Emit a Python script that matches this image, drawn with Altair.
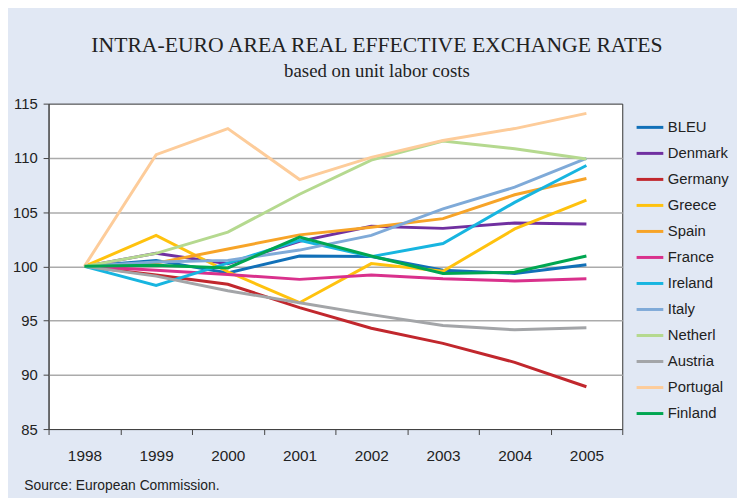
import altair as alt
import pandas as pd

years = [1998, 1999, 2000, 2001, 2002, 2003, 2004, 2005]
countries = ["BLEU", "Denmark", "Germany", "Greece", "Spain", "France",
             "Ireland", "Italy", "Netherl", "Austria", "Portugal", "Finland"]

bleu = [100, 100.55, 99.4, 100.95, 100.9, 99.65, 99.35, 100.15]
denmark = [100, 101.2, 100.25, 102.3, 103.7, 103.5, 104.0, 103.9]
germany = [100, 99.2, 98.35, 96.2, 94.3, 92.9, 91.15, 88.9]
greece = [100, 102.85, 99.5, 96.65, 100.25, 99.55, 103.45, 106.1]
spain = [100, 100.3, 101.6, 102.9, 103.6, 104.4, 106.6, 108.1]
france = [100, 99.65, 99.25, 98.8, 99.2, 98.85, 98.65, 98.85]
ireland = [100, 98.25, 100.3, 102.4, 100.9, 102.1, 105.9, 109.3]
italy = [100, 100.4, 100.55, 101.5, 102.85, 105.3, 107.3, 109.95]
netherl = [100, 101.2, 103.15, 106.65, 109.8, 111.55, 110.85, 109.9]
austria = [100, 99.1, 97.75, 96.65, 95.55, 94.55, 94.15, 94.35]
portugal = [100, 110.3, 112.7, 108.0, 110.05, 111.6, 112.7, 114.1]
finland = [100, 100.1, 99.85, 102.7, 100.95, 99.35, 99.45, 100.95]

series = [bleu, denmark, germany, greece, spain, france,
          ireland, italy, netherl, austria, portugal, finland]

colors = ["#1170b8", "#7030a0", "#c1272d", "#ffc20e", "#f7a428", "#d9318c",
          "#17b5e0", "#7faad8", "#b5d98f", "#a3a5a8", "#fdcc9a", "#00a651"]

y_ticks = [85, 90, 95, 100, 105, 110, 115]

title_text = "INTRA-EURO AREA REAL EFFECTIVE EXCHANGE RATES"
subtitle_text = "based on unit labor costs"
source_text = "Source: European Commission."

rows = []
for name, vals in zip(countries, series):
    for yr, v in zip(years, vals):
        rows.append({"year": str(yr), "country": name, "value": v})
df = pd.DataFrame(rows)

lines = alt.Chart(df).mark_line(strokeWidth=3).encode(
    x=alt.X("year:O", bandPosition=0.5,
            scale=alt.Scale(type="band", paddingInner=0, paddingOuter=0),
            axis=alt.Axis(title=None, labelAngle=0, tickBand="extent",
                          tickSize=5.5, labelPadding=14, labelFontSize=15.5,
                          grid=False)),
    y=alt.Y("value:Q",
            scale=alt.Scale(domain=[85, 115], nice=False, zero=False),
            axis=alt.Axis(title=None, values=y_ticks, tickSize=5.5,
                          labelPadding=6, labelFontSize=15,
                          grid=True, gridWidth=1.5,
                          gridColor={"condition": {"test": "datum.value === 85 || datum.value === 115",
                                                   "value": "transparent"},
                                     "value": "#ababab"})),
    color=alt.Color("country:N", sort=countries,
                    scale=alt.Scale(domain=countries, range=colors),
                    legend=alt.Legend(title=None, orient="none", legendX=593, legendY=9,
                                      symbolType="stroke", symbolSize=729,
                                      symbolStrokeWidth=3, labelFontSize=15,
                                      labelFont="Liberation Sans", labelColor="#222",
                                      labelOffset=3, padding=0, rowPadding=3.3)),
)

src = alt.Chart(pd.DataFrame({"t": [source_text]})).mark_text(
    align="left", baseline="alphabetic", font="Liberation Sans", fontSize=14,
    color="#222"
).encode(x=alt.value(-24.5), y=alt.value(390.5), text="t:N")

chart = alt.layer(lines, src).properties(
    width=580, height=329,
    title=alt.Title(text=title_text, subtitle=subtitle_text,
                    font="Liberation Serif", fontSize=21.9, fontWeight="normal",
                    color="#222", subtitleFont="Liberation Serif",
                    subtitleFontSize=19, subtitleColor="#222",
                    anchor="middle", dx=42, offset=15, subtitlePadding=5.5),
    padding={"left": 41, "top": 94, "right": 116, "bottom": 67},
    autosize=alt.AutoSizeParams(type="none"),
    background="#e1e8f4",
).configure_view(
    stroke="#333", strokeWidth=1, fill="white"
).configure_axis(
    domainColor="#444", tickColor="#444", labelColor="#222",
    labelFont="Liberation Sans"
)

chart.save("out.html", embed_options={"renderer": "svg", "actions": False})
